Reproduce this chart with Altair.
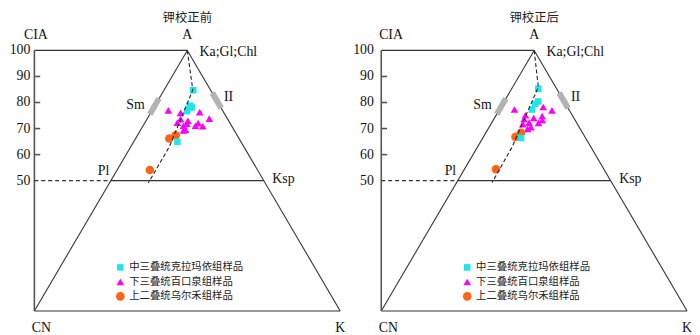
import altair as alt
import pandas as pd

# ---------------- data ----------------
panel_titles = ["钾校正前", "钾校正后"]
series_names = ["中三叠统克拉玛依组样品", "下三叠统百口泉组样品", "上二叠统乌尔禾组样品"]
series_colors = ["#1ee6ec", "#ff00ff", "#ff6414"]
series_shapes = ["square", "triangle-up", "circle"]
series_sizes = [44, 76, 48]

# CIA (=A %) and K % of each sample, before K correction
before_kl_A = [84.7, 78.8, 78.1, 76.7, 64.9]
before_kl_K = [9.6, 11.4, 12.4, 11.6, 14.3]
before_bk_A = [77.0, 76.0, 76.3, 73.8, 73.6, 72.3, 72.1, 70.9, 71.1, 71.1, 69.6, 69.3, 73.0, 71.9]
before_bk_K = [5.3, 9.8, 15.9, 20.3, 11.0, 10.6, 17.5, 19.6, 17.1, 13.2, 14.6, 14.1, 13.7, 13.9]
before_we_A = [66.2, 67.4, 54.1]
before_we_K = [11.0, 12.5, 10.7]

# after K correction
after_kl_A = [85.3, 80.4, 79.5, 77.3, 66.4]
after_kl_K = [8.7, 11.1, 10.6, 10.6, 12.5]
after_bk_A = [77.3, 78.3, 77.0, 75.1, 74.8, 73.6, 73.3, 72.3, 71.7, 70.5, 69.9, 72.2, 74.1]
after_bk_K = [4.9, 13.8, 17.3, 9.6, 15.2, 9.9, 16.0, 12.2, 10.4, 13.7, 12.9, 15.3, 12.8]
after_we_A = [66.8, 68.4, 54.4]
after_we_K = [10.5, 11.5, 10.3]

# weathering trend (dashed) lines
trend_before_A = [100, 84.8, 63.1, 49.1]
trend_before_K = [0, 9.4, 12.6, 12.7]
trend_after_A = [100, 85.9, 63.1, 49.3]
trend_after_K = [0, 8.4, 11.3, 11.6]

cia_ticks = [100, 90, 80, 70, 60, 50]
sm_cia = [75.5, 81.5]
il_cia = [77.8, 83.7]

# ---------------- layout (ternary units) ----------------
REF_CN, UX, UY, REF_BASE = 27.0, 3.13, 2.7, 312.0
X0, X1 = -REF_CN / UX, (700 - REF_CN) / UX
Y0, Y1 = (REF_BASE - 335) / UY, REF_BASE / UY
SHIFT = 355 / UX
tick_lab_x = [-1.3, -2.4]
cia_lab_x = [0.5, 3.2]


def tx(a, k):
    return k + a / 2.0


panels = [
    dict(groups=[(before_kl_A, before_kl_K), (before_bk_A, before_bk_K), (before_we_A, before_we_K)],
         trend=(trend_before_A, trend_before_K)),
    dict(groups=[(after_kl_A, after_kl_K), (after_bk_A, after_bk_K), (after_we_A, after_we_K)],
         trend=(trend_after_A, trend_after_K)),
]

pts, trend, frame, axis_l, dashed, gray = [], [], [], [], [], []
t_center, t_left, t_right, t_title, t_leg, leg_pts = [], [], [], [], [], []
for p, pan in enumerate(panels):
    o = p * SHIFT
    for s in [1, 2, 0]:
        A, K = pan["groups"][s]
        for a, k in zip(A, K):
            pts.append(dict(x=tx(a, k) + o, y=a, series=series_names[s]))
    A, K = pan["trend"]
    for i, (a, k) in enumerate(zip(A, K)):
        trend.append(dict(x=tx(a, k) + o, y=a, order=i, panel=p))
    # triangle frame
    for (xa, ya, xb, yb) in [(0, 100, 50, 100), (0, 0, 50, 100), (50, 100, 100, 0),
                             (0, 0, 100, 0), (25, 50, 75, 50)]:
        frame.append(dict(x=xa + o, y=ya, x2=xb + o, y2=yb))
    axis_l.append(dict(x=o, y=0, x2=o, y2=100))
    for t in cia_ticks[1:-1]:
        axis_l.append(dict(x=o, y=t, x2=o + 1.9, y2=t))
    dashed.append(dict(x=o, y=50, x2=o + 25, y2=50))
    gray.append(dict(x=sm_cia[0] / 2 + o, y=sm_cia[0], x2=sm_cia[1] / 2 + o, y2=sm_cia[1]))
    gray.append(dict(x=100 - il_cia[0] / 2 + o, y=il_cia[0], x2=100 - il_cia[1] / 2 + o, y2=il_cia[1]))
    # labels
    for t in cia_ticks:
        t_right.append(dict(x=tick_lab_x[p] + o, y=t, label=str(t)))
    t_center += [dict(x=cia_lab_x[p] + o, y=105.9, label="CIA"),
                 dict(x=50 + o, y=105.9, label="A"),
                 dict(x=2.3 + o, y=-6.7, label="CN"),
                 dict(x=100 + o, y=-6.7, label="K")]
    t_left += [dict(x=54 + o, y=99.3, label="Ka;Gl;Chl"),
               dict(x=62 + o, y=82.2, label="II"),
               dict(x=77.8 + o, y=50.7, label="Ksp")]
    t_right += [dict(x=36.1 + o, y=78.9, label="Sm"),
                dict(x=24.5 + o, y=53.8, label="Pl")]
    t_title.append(dict(x=50 + o, y=112.3, label=panel_titles[p]))
    for i, name in enumerate(series_names):
        yy = [16.7, 11.1, 5.6][i]
        leg_pts.append(dict(x=28.1 + o, y=yy, series=name))
        t_leg.append(dict(x=31 + o, y=yy, label=name))

xs = alt.Scale(domain=[X0, X1], nice=False, zero=False)
ys = alt.Scale(domain=[Y0, Y1], nice=False, zero=False)
X = alt.X("x:Q", scale=xs, axis=None)
Y = alt.Y("y:Q", scale=ys, axis=None)
color = alt.Color("series:N", scale=alt.Scale(domain=series_names, range=series_colors), legend=None)
shape = alt.Shape("series:N", scale=alt.Scale(domain=series_names, range=series_shapes), legend=None)
size = alt.Size("series:N", scale=alt.Scale(domain=series_names, range=series_sizes), legend=None)


def rules(rows, **kw):
    return alt.Chart(pd.DataFrame(rows)).mark_rule(**kw).encode(
        x=X, y=Y, x2=alt.X2("x2:Q"), y2=alt.Y2("y2:Q"))


def texts(rows, **kw):
    return alt.Chart(pd.DataFrame(rows)).mark_text(baseline="middle", **kw).encode(
        x=X, y=Y, text="label:N")


serif = dict(font="Liberation Serif", fontSize=14, color="#111")
cjk = "Noto Sans CJK SC"

layers = [
    rules(frame, color="#333", strokeWidth=1.1),
    rules(gray, color="#b3b3b3", strokeWidth=6, strokeCap="butt"),
    rules(axis_l, color="#555", strokeWidth=1.6),
    rules(dashed, color="#333", strokeWidth=1.1, strokeDash=[4, 3]),
    alt.Chart(pd.DataFrame(pts)).mark_point(filled=True, opacity=1, strokeWidth=0).encode(
        x=X, y=Y, color=color, shape=shape, size=size),
    alt.Chart(pd.DataFrame(trend)).mark_line(color="#222", strokeWidth=1.1, strokeDash=[4, 2.5]).encode(
        x=X, y=Y, order="order:Q", detail="panel:N"),
    alt.Chart(pd.DataFrame(leg_pts)).mark_point(filled=True, opacity=1, strokeWidth=0).encode(
        x=X, y=Y, color=color, shape=shape, size=size),
    texts(t_center, align="center", **serif),
    texts(t_left, align="left", **serif),
    texts(t_right, align="right", **serif),
    texts(t_title, align="center", font=cjk, fontSize=12.5, color="#222"),
    texts(t_leg, align="left", font=cjk, fontSize=10.5, color="#222"),
]

chart = alt.layer(*layers).properties(
    width=692, height=327, padding=0,
    autosize=alt.AutoSizeParams(type="none"),
).configure_view(stroke=None)

chart.save("out.html", embed_options={"renderer": "svg", "actions": False})
